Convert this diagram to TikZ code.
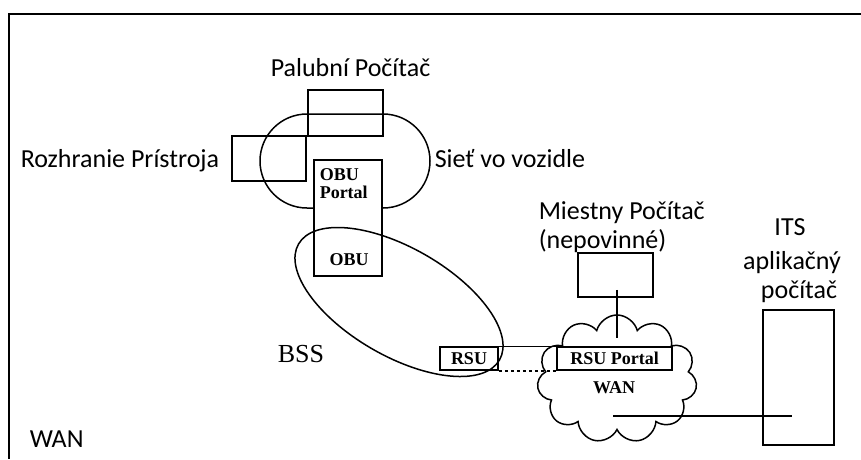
\documentclass[tikz,border=0pt]{standalone}
\usepackage{fontspec}
\setmainfont{Carlito}
\newfontfamily\timesfont{Liberation Serif}
\usetikzlibrary{shapes.symbols}
\tikzset{
  box/.style={draw, inner sep=0pt},
  lbl/.style={font=\fontsize{26}{30}\selectfont, inner sep=0pt},
  tag/.style={font=\timesfont\bfseries\fontsize{18}{18}\selectfont, inner sep=0pt},
}
\begin{document}
\begin{tikzpicture}[x=1pt,y=-1pt,line width=1.5pt]
	\useasboundingbox (0,0) rectangle (861,459);
	\draw [line width=2pt] (861,14) -- (9,14) -- (9,459);
	% vehicle side
	\node [box, minimum width=75pt, minimum height=46pt] (palubny) at (345.5,113) {};
	\node [box, minimum width=74pt, minimum height=45pt] (rozhranie) at (269,158.5) {};
	\draw [rounded corners=47pt] (260,114) rectangle (430,208);
	\node [box, fill=white, minimum width=68pt, minimum height=116pt] (obu) at (348,218) {};
	\node [tag, anchor=base west] (obuportal) at (319,180) {OBU};
	\node [tag, anchor=base west] (obuportalb) at (319,198) {Portal};
	\node [tag, anchor=base] (obutext) at (349,265) {OBU};
	% roadside
	\node [box, tag, minimum width=58pt, minimum height=23pt] (rsu) at (469,358.5) {RSU};
	\draw [rotate around={-30:(399,302)}] (399,302) ellipse [x radius=116pt, y radius=54pt];
	\node [cloud, draw, cloud puffs=11, minimum width=160pt, minimum height=128pt] (wan) at (617,379) {};
	\node [tag, anchor=base] (wantext) at (614,393) {WAN};
	\node [box, tag, fill=white, minimum width=115pt, minimum height=23pt] (rsuportal) at (614.5,358.5) {RSU Portal};
	\draw (rsu.north east) -- (rsuportal.north west);
	\draw [dashed] (rsu.south east) -- (rsuportal.south west);
	\node [box, minimum width=75pt, minimum height=44pt] (miestny) at (615.5,275) {};
	\coordinate (lanend) at (617,338);
	\draw (miestny.south) ++(1.5,-8) -- (lanend);
	\node [box, minimum width=71pt, minimum height=135pt] (its) at (798.5,377.5) {};
	\coordinate (wanlink) at (613,416);
	\coordinate (itsend) at (792,416);
	\draw (wanlink) -- (itsend);
	% labels
	\node [lbl, anchor=base west] (palubnytext) at (270,76) {Palubní Počítač};
	\node [lbl, anchor=base west] (rozhranietext) at (20,167) {Rozhranie Prístroja};
	\node [lbl, anchor=base west] (sietext) at (434,167) {Sieť vo vozidle};
	\node [lbl, anchor=base west] (miestnytext) at (538,219) {Miestny Počítač};
	\node [lbl, anchor=base west] (miestnytextb) at (538,248) {(nepovinné)};
	\node [lbl, anchor=base] (itstext) at (790,235) {ITS};
	\node [lbl, anchor=base] (itstextb) at (792,269) {aplikačný};
	\node [lbl, anchor=base] (itstextc) at (799,298) {počítač};
	\node [font=\timesfont\fontsize{26}{28}\selectfont, inner sep=0pt, anchor=base west] (bss) at (277,362) {BSS};
	\node [lbl, anchor=base west] (wanleft) at (29,447) {WAN};
\end{tikzpicture}
\end{document}
